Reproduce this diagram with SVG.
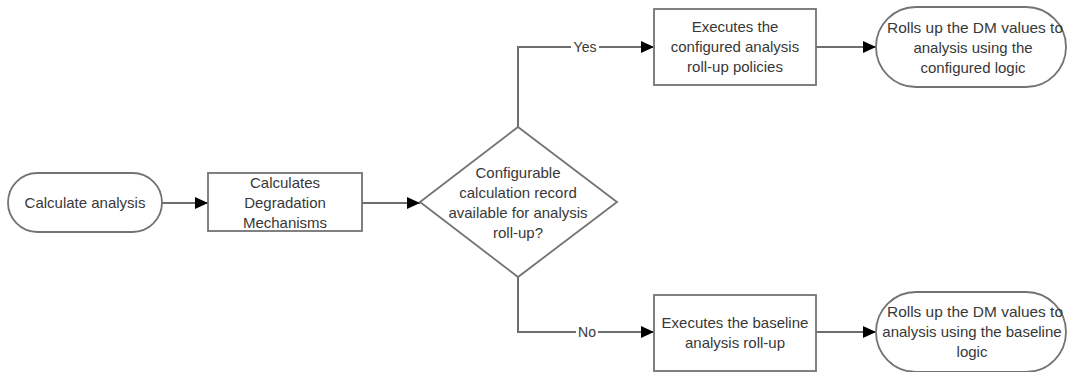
<svg xmlns="http://www.w3.org/2000/svg" width="1068" height="372" viewBox="0 0 1068 372">
  <defs>
    <style>
      .shape { fill: #ffffff; stroke: #737373; stroke-width: 1.8; }
      .conn { fill: none; stroke: #6e6e6e; stroke-width: 2; }
      .txt { font-family: "Liberation Sans", Arial, sans-serif; font-size: 15px; fill: #383838; text-anchor: middle; }
      .lbl { font-family: "Liberation Sans", Arial, sans-serif; font-size: 14px; fill: #383838; text-anchor: middle; }
    </style>
    <marker id="arr" viewBox="0 0 13 12" refX="13" refY="6" markerWidth="13" markerHeight="12" markerUnits="userSpaceOnUse" orient="auto">
      <path d="M0,0 L13,6 L0,12 Z" fill="#000000"/>
    </marker>
  </defs>
  <rect width="1068" height="372" fill="#ffffff"/>

  <g id="connectors">
    <path class="conn" d="M162,203 L208,203" marker-end="url(#arr)"/>
    <path class="conn" d="M362,203 L420,203" marker-end="url(#arr)"/>
    <path class="conn" d="M518,127 L518,47 L654,47" marker-end="url(#arr)"/>
    <path class="conn" d="M518,277 L518,332 L654,332" marker-end="url(#arr)"/>
    <path class="conn" d="M816,47 L876,47" marker-end="url(#arr)"/>
    <path class="conn" d="M816,332 L876,332" marker-end="url(#arr)"/>
    <rect x="571" y="39" width="28" height="16" fill="#ffffff"/>
    <text class="lbl" x="585" y="52">Yes</text>
    <rect x="576" y="324" width="22" height="16" fill="#ffffff"/>
    <text class="lbl" x="587" y="337">No</text>
  </g>

  <g id="start">
    <rect class="shape" x="8" y="173" width="154" height="59" rx="29.5" ry="29.5"/>
    <text class="txt" x="85" y="208">Calculate analysis</text>
  </g>

  <g id="calc-dm">
    <rect class="shape" x="208" y="173" width="154" height="58"/>
    <text class="txt" x="285" y="188">Calculates</text>
    <text class="txt" x="285" y="208">Degradation</text>
    <text class="txt" x="285" y="228">Mechanisms</text>
  </g>

  <g id="decision">
    <polygon class="shape" points="518,127 617,202 518,277 420,202"/>
    <text class="txt" x="518" y="178">Configurable</text>
    <text class="txt" x="518" y="198">calculation record</text>
    <text class="txt" x="518" y="218">available for analysis</text>
    <text class="txt" x="518" y="238">roll-up?</text>
  </g>

  <g id="configured">
    <rect class="shape" x="654" y="9" width="162" height="76"/>
    <text class="txt" x="735" y="32">Executes the</text>
    <text class="txt" x="735" y="52">configured analysis</text>
    <text class="txt" x="735" y="72">roll-up policies</text>
  </g>

  <g id="end-configured">
    <rect class="shape" x="876" y="7" width="190" height="80" rx="40" ry="40"/>
    <text class="txt" x="975" y="33" textLength="176" lengthAdjust="spacingAndGlyphs">Rolls up the DM values to</text>
    <text class="txt" x="973" y="53">analysis using the</text>
    <text class="txt" x="973" y="73">configured logic</text>
  </g>

  <g id="baseline">
    <rect class="shape" x="654" y="295" width="162" height="76"/>
    <text class="txt" x="735" y="328">Executes the baseline</text>
    <text class="txt" x="735" y="348">analysis roll-up</text>
  </g>

  <g id="end-baseline">
    <rect class="shape" x="876" y="292" width="190" height="80" rx="40" ry="40"/>
    <text class="txt" x="975" y="317" textLength="176" lengthAdjust="spacingAndGlyphs">Rolls up the DM values to</text>
    <text class="txt" x="972" y="337">analysis using the baseline</text>
    <text class="txt" x="972" y="357">logic</text>
  </g>
</svg>
